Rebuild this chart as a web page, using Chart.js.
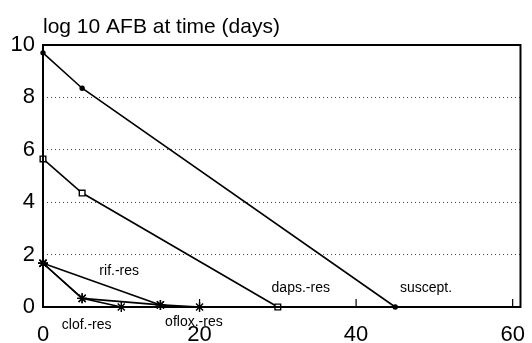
<!DOCTYPE html>
<html>
<head>
<meta charset="utf-8">
<script src="https://cdn.jsdelivr.net/npm/chart.js@4.4.1/dist/chart.umd.min.js"></script>
<style>
  html, body { margin: 0; padding: 0; background: #fff; }
  #wrap { width: 532px; height: 343px; }
</style>
</head>
<body>
<div id="wrap"><canvas id="afb"></canvas></div>
<script>
// Werte (Tage, log10 AFB)
const susceptX = [0, 5, 45];
const susceptY = [9.7, 8.35, 0];
const dapsX = [0, 5, 30];
const dapsY = [5.65, 4.35, 0];
const rifX = [0, 15];
const rifY = [1.67, 0.08];
const clofX = [0, 5, 10];
const clofY = [1.67, 0.33, 0];
const ofloxX = [0, 5, 15, 20];
const ofloxY = [1.67, 0.33, 0.08, 0];

const xTicks = [0, 20, 40, 60];
const yTicks = [0, 2, 4, 6, 8, 10];
const title = 'log 10 AFB at time (days)';

// Beschriftungen der Kurven (in Datenkoordinaten)
const curveLabels = [
  { text: 'suscept.', x: 45.6, y: 0.73 },
  { text: 'daps.-res', x: 29.2, y: 0.73 },
  { text: 'rif.-res', x: 7.2, y: 1.37 },
  { text: 'clof.-res', x: 2.4, y: -0.69 },
  { text: 'oflox.-res', x: 15.6, y: -0.57 }
];

const pts = (xs, ys) => xs.map((x, i) => ({ x: x, y: ys[i] }));

const FONT = '"Liberation Sans", Arial, Helvetica, sans-serif';

const line = (data, style, radius, fill) => ({
  data: data,
  borderColor: '#000',
  borderWidth: 1.6,
  pointStyle: style,
  pointRadius: radius,
  pointBorderColor: '#000',
  pointBorderWidth: 1.4,
  pointBackgroundColor: fill,
  tension: 0,
  clip: false
});

const frame = {
  id: 'frame',
  afterDraw(chart) {
    const { ctx, chartArea: a, scales } = chart;
    ctx.save();
    ctx.strokeStyle = '#000';
    ctx.lineWidth = 2;
    ctx.strokeRect(a.left, a.top, a.right - a.left, a.bottom - a.top);
    // kleine Striche nach innen an der x-Achse
    ctx.lineWidth = 1.2;
    xTicks.slice(1).forEach(v => {
      const px = scales.x.getPixelForValue(v);
      ctx.beginPath();
      ctx.moveTo(px, a.bottom);
      ctx.lineTo(px, a.bottom - 8);
      ctx.stroke();
    });
    // Titel
    ctx.fillStyle = '#000';
    ctx.font = '21px ' + FONT;
    ctx.textBaseline = 'alphabetic';
    ctx.textAlign = 'left';
    ctx.fillText(title, a.left, 33);
    // Kurvennamen
    ctx.font = '14px ' + FONT;
    ctx.textBaseline = 'middle';
    curveLabels.forEach(l => {
      ctx.fillText(l.text, scales.x.getPixelForValue(l.x), scales.y.getPixelForValue(l.y));
    });
    ctx.restore();
  }
};

new Chart(document.getElementById('afb'), {
  type: 'line',
  data: {
    datasets: [
      line(pts(susceptX, susceptY), 'circle', 2, '#000'),
      line(pts(dapsX, dapsY), 'rect', 4, '#fff'),
      line(pts(rifX, rifY), 'star', 5, '#fff'),
      line(pts(clofX, clofY), 'star', 5, '#fff'),
      line(pts(ofloxX, ofloxY), 'star', 5, '#fff')
    ]
  },
  options: {
    responsive: true,
    maintainAspectRatio: false,
    animation: false,
    layout: { padding: { top: 45, right: 4, left: 0, bottom: 0 } },
    plugins: { legend: { display: false }, tooltip: { enabled: false } },
    scales: {
      x: {
        type: 'linear',
        min: 0,
        max: 61,
        afterBuildTicks: s => { s.ticks = xTicks.map(v => ({ value: v })); },
        afterFit: s => { s.height = 36; },
        ticks: { color: '#000', font: { family: FONT, size: 22 }, padding: 7, maxRotation: 0 },
        grid: { display: false },
        border: { display: false }
      },
      y: {
        min: 0,
        max: 10,
        afterBuildTicks: s => { s.ticks = yTicks.map(v => ({ value: v })); },
        afterFit: s => { s.width = 43; },
        ticks: { color: '#000', font: { family: FONT, size: 22 }, padding: 8 },
        grid: {
          drawTicks: false,
          color: c => (c.tick.value === 0 || c.tick.value === 10) ? 'rgba(0,0,0,0)' : '#444',
          lineWidth: 1
        },
        border: { display: false, dash: [1, 3] }
      }
    }
  },
  plugins: [frame]
});
</script>
</body>
</html>
